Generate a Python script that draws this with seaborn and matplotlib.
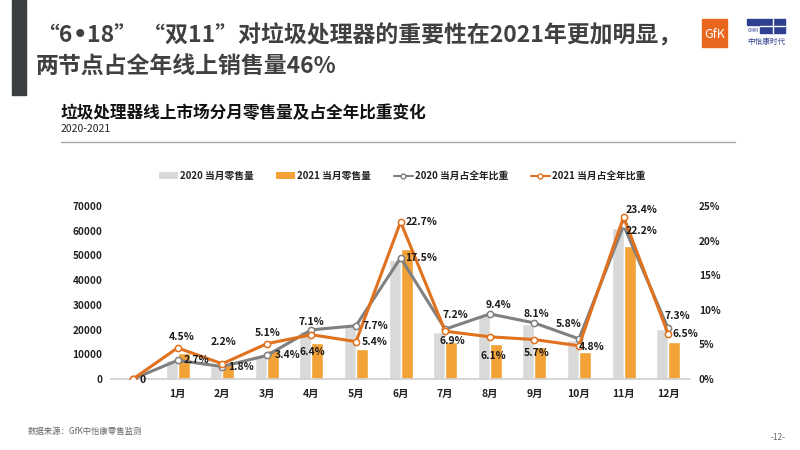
import numpy as np
import pandas as pd
import seaborn as sns
import matplotlib.pyplot as plt
from matplotlib.patches import Rectangle, Patch
from matplotlib.lines import Line2D

# data
months = ["", "1月", "2月", "3月", "4月", "5月", "6月", "7月", "8月", "9月", "10月", "11月", "12月"]
sales_2020 = [0, 7600, 5200, 9500, 19500, 21500, 48000, 19000, 26000, 22200, 15800, 61000, 20200]
sales_2021 = [0, 10400, 6000, 11900, 14700, 12300, 52400, 15000, 14200, 13100, 10900, 53700, 14900]
share_2020 = [0, 2.7, 1.8, 3.4, 7.1, 7.7, 17.5, 7.2, 9.4, 8.1, 5.8, 22.2, 7.3]
share_2021 = [0, 4.5, 2.2, 5.1, 6.4, 5.4, 22.7, 6.9, 6.1, 5.7, 4.8, 23.4, 6.5]
series_names = ["2020 当月零售量", "2021 当月零售量", "2020 当月占全年比重", "2021 当月占全年比重"]

# label offsets in pixels (layout only)
off_2020 = [None, (19, 0), (19, 0), (21, 0), (0, 8), (19, 0), (21, 0), (10, 14), (9, 9), (2, 9), (-10, 15), (18, -6), (9, 12)]
off_2021 = [None, (4, 11), (1, 22), (1, 11), (1, -17), (19, 0), (21, 0), (7, -10), (4, -19), (2, -13), (13, -1), (18, 7), (17, 0)]

GRAY_BAR = "#D9D9D9"
ORANGE_BAR = "#F2A236"
GRAY_LINE = "#808080"
ORANGE_LINE = "#E0711F"

sns.set_theme(style="white")
plt.rcParams["font.family"] = ["Noto Sans CJK SC", "DejaVu Sans"]

W, H = 800, 450


def fx(x):
    return x / W


def fy(y):
    return 1 - y / H


fig = plt.figure(figsize=(8, 4.5), dpi=100)
renderer = fig.canvas.get_renderer()

# header
fig.patches.append(Rectangle((fx(12), fy(95)), fx(14), fy(0) - fy(95),
                             transform=fig.transFigure, color="#3B3F42", zorder=0))
title_kw = dict(fontsize=16.5, fontweight="bold", color="#404040", va="baseline")
# first title line in pieces so the bullet stays narrow
x = 36
for part, fam in [("“6", None), ("•", "DejaVu Sans"), ("18” “双11”对垃圾处理器的重要性在2021年更加明显，", None)]:
    kw = dict(title_kw)
    if fam:
        kw["family"] = fam
    t = fig.text(fx(x), fy(42), part, **kw)
    x = t.get_window_extent(renderer).x1
fig.text(fx(36), fy(73), "两节点占全年线上销售量46%", **title_kw)
fig.text(fx(61), fy(113), "垃圾处理器线上市场分月零售量及占全年比重变化",
         fontsize=12, fontweight="bold", color="#111111", va="center")
fig.text(fx(61), fy(129), "2020-2021", fontsize=7.5, color="#222222", va="center")
fig.add_artist(Line2D([fx(61), fx(735)], [fy(142), fy(142)], color="#A6A6A6", lw=1))

# logos (approximate)
fig.patches.append(Rectangle((fx(702), fy(47)), fx(25), fy(0) - fy(28),
                             transform=fig.transFigure, color="#E8661E"))
fig.text(fx(714.5), fy(34), "GfK", fontsize=9, color="white", ha="center", va="center")
fig.patches.append(Rectangle((fx(760), fy(33)), fx(25), fy(0) - fy(14),
                             transform=fig.transFigure, color="#2E3F8F"))
fig.patches.append(Rectangle((fx(747), fy(25)), fx(12), fy(0) - fy(6),
                             transform=fig.transFigure, color="#2E3F8F"))
fig.add_artist(Line2D([fx(772.5), fx(772.5)], [fy(19), fy(33)], color="white", lw=1))
fig.add_artist(Line2D([fx(760), fx(785)], [fy(26), fy(26)], color="white", lw=1))
fig.text(fx(753), fy(30), "CMM", fontsize=3.5, color="#2E3F8F", ha="center", va="center")
fig.text(fx(766), fy(42), "中怡康时代", fontsize=5.5, color="#2E3F8F", ha="center", va="center")

# footer
fig.text(fx(28), fy(431), "数据来源：GfK中怡康零售监测", fontsize=6, color="#666666", va="center")
fig.text(fx(778), fy(437), "-12-", fontsize=6, color="#666666", ha="center", va="center")

# chart
ax = fig.add_axes([fx(110.7), fy(379), fx(690.5 - 110.7), (379 - 206) / H])

bars = pd.DataFrame({
    "月份": months * 2,
    "零售量": sales_2020 + sales_2021,
    "系列": [series_names[0]] * len(months) + [series_names[1]] * len(months),
})
sns.barplot(data=bars, x="月份", y="零售量", hue="系列", order=months,
            palette=[GRAY_BAR, ORANGE_BAR], width=0.54, saturation=1,
            legend=False, ax=ax)

ax2 = ax.twinx()
pos = np.arange(len(months))
for vals, col in [(share_2020, GRAY_LINE), (share_2021, ORANGE_LINE)]:
    sns.lineplot(x=pos, y=vals, ax=ax2, color=col, linewidth=2.2, marker="o",
                 markersize=4.5, markerfacecolor="white", markeredgecolor=col,
                 markeredgewidth=1.1)

ax.set_xlim(-0.5, len(months) - 0.5)
ax.set_ylim(0, 70000)
ax2.set_ylim(0, 25)
ax.set_yticks(range(0, 70001, 10000))
ax.set_yticklabels([str(v) for v in range(0, 70001, 10000)])
ax2.set_yticks(range(0, 26, 5))
ax2.set_yticklabels([f"{v}%" for v in range(0, 26, 5)])
ax.set_xlabel("")
ax.set_ylabel("")
ax2.set_ylabel("")

for a in (ax, ax2):
    for s in a.spines.values():
        s.set_visible(False)
    a.grid(False)
ax.spines["bottom"].set_visible(True)
ax.spines["bottom"].set_color("#D0D0D0")
ax.tick_params(axis="x", length=0, pad=7, labelsize=7.5, labelcolor="#222222")
ax.tick_params(axis="y", length=0, pad=6, labelsize=7.2, labelcolor="#222222")
ax2.tick_params(axis="y", length=0, pad=6, labelsize=7.2, labelcolor="#222222")
for lab in ax.get_xticklabels() + ax.get_yticklabels() + ax2.get_yticklabels():
    lab.set_fontweight("bold")

# data labels
ax2.annotate("0", (0, 0), xytext=(10, -1), textcoords="offset pixels",
             ha="center", va="center", fontsize=7.5, fontweight="bold", color="#1A1A1A")
for vals, offs in [(share_2020, off_2020), (share_2021, off_2021)]:
    for i, v in enumerate(vals):
        if offs[i] is None:
            continue
        ax2.annotate(f"{v}%", (i, v), xytext=offs[i], textcoords="offset pixels",
                     ha="center", va="center", fontsize=7.5, fontweight="bold",
                     color="#1A1A1A")

# legend
handles = [
    Patch(facecolor=GRAY_BAR, edgecolor="none"),
    Patch(facecolor=ORANGE_BAR, edgecolor="none"),
    Line2D([], [], color=GRAY_LINE, lw=1.5, marker="o", markersize=3.5,
           markerfacecolor="white", markeredgecolor=GRAY_LINE),
    Line2D([], [], color=ORANGE_LINE, lw=1.5, marker="o", markersize=3.5,
           markerfacecolor="white", markeredgecolor=ORANGE_LINE),
]
leg = fig.legend(handles, series_names, ncol=4, frameon=False, loc="center",
                 bbox_to_anchor=(fx(402), fy(176)), fontsize=7,
                 handlelength=2.0, handleheight=0.6, columnspacing=2.3,
                 handletextpad=0.2)
for t in leg.get_texts():
    t.set_fontweight("bold")
    t.set_color("#222222")

fig.savefig("out.png", dpi=100)
